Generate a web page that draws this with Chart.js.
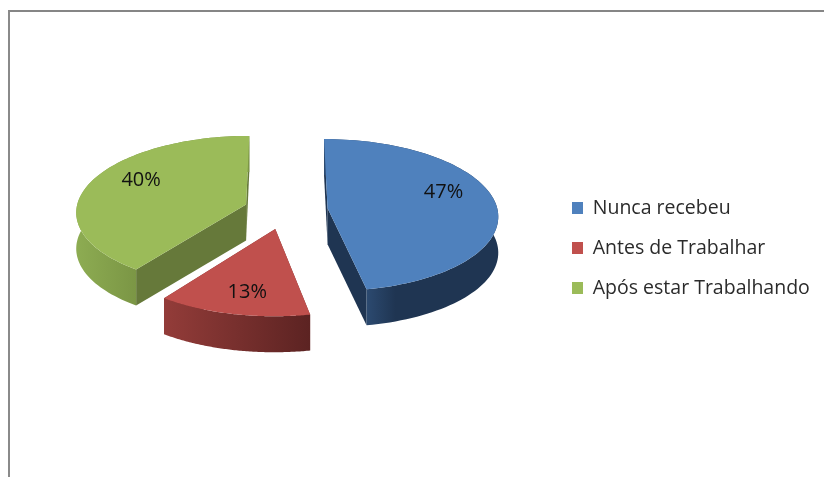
<!DOCTYPE html>
<html>
<head>
<meta charset="utf-8">
<script src="https://cdn.jsdelivr.net/npm/chart.js@4"></script>
<style>
  html, body { margin: 0; padding: 0; background: #fff; overflow: hidden; }
  #frame { position: absolute; left: 8px; top: 10px; width: 816px; height: 467px; box-sizing: border-box;
           border-left: 2px solid #8a8a8a; border-top: 2px solid #868686; }
  #pie3d { position: absolute; left: 0; top: 0; }
</style>
</head>
<body>
<div id="frame"></div>
<canvas id="pie3d" width="824" height="477"></canvas>
<script>
var categories = ["Nunca recebeu", "Antes de Trabalhar", "Após estar Trabalhando"];
var percentValues = [47, 13, 40];
var topColors = ["#4f81bd", "#c0504d", "#9bbb59"];
var sliceOffsets = [172, 172, 164];
var radialWallColors = ["#1f3552", "#7a3130", "#66793a"];
var outerWallStops = [
  [[0, "#2c4a70"], [0.22, "#1f3552"], [1, "#1f3552"]],
  [[0, "#933c39"], [1, "#5c2322"]],
  [[0, "#8dac52"], [1, "#7b9645"]]
];
var labelShifts = [[116, -16], [-28, 63], [-105, -24]];

var squash = 0.445, persp = 0.09, depth = 36;
var fontName = '"Open Sans", sans-serif';

function project(arc, wx, wy) {
  var s = 1 / (1 - persp * wy / arc.outerRadius);
  return [arc.x + wx * s, arc.y + wy * squash * s];
}

// draws the arcs chart.js laid out as tilted 3d slices
var tiltPlugin = {
  id: 'tilt',
  afterLayout: function (chart) {
    chart.legend.left = 551.5;
    chart.legend.top = 76;
  },
  beforeDatasetDraw: function (chart, args) {
    var ctx = chart.ctx;
    var arcs = args.meta.data;
    var order = [2, 0, 1];
    order.forEach(function (i) {
      var arc = arcs[i];
      var shift = arc.options.offset / 4;
      var mid = (arc.startAngle + arc.endAngle) / 2;
      var ox = Math.cos(mid) * shift, oy = Math.sin(mid) * shift;
      var rim = [], steps = 90;
      for (var n = 0; n <= steps; n++) {
        var a = arc.startAngle + (arc.endAngle - arc.startAngle) * n / steps;
        rim.push({ p: project(arc, ox + Math.cos(a) * arc.outerRadius, oy + Math.sin(a) * arc.outerRadius), front: Math.sin(a) > 0 });
      }
      var apex = project(arc, ox, oy);

      // flat side walls
      ctx.fillStyle = radialWallColors[i];
      [rim[0].p, rim[steps].p].forEach(function (e) {
        ctx.beginPath();
        ctx.moveTo(apex[0], apex[1]);
        ctx.lineTo(e[0], e[1]);
        ctx.lineTo(e[0], e[1] + depth);
        ctx.lineTo(apex[0], apex[1] + depth);
        ctx.closePath();
        ctx.fill();
      });

      // curved wall, shaded from left to right over its visible part
      var xs = rim.filter(function (r) { return r.front; }).map(function (r) { return r.p[0]; });
      var grad = ctx.createLinearGradient(Math.min.apply(null, xs), 0, Math.max.apply(null, xs), 0);
      outerWallStops[i].forEach(function (st) { grad.addColorStop(st[0], st[1]); });
      ctx.fillStyle = grad;
      ctx.beginPath();
      rim.forEach(function (r, n) {
        if (n === 0) ctx.moveTo(r.p[0], r.p[1]); else ctx.lineTo(r.p[0], r.p[1]);
      });
      for (var m = steps; m >= 0; m--) ctx.lineTo(rim[m].p[0], rim[m].p[1] + depth);
      ctx.closePath();
      ctx.fill();

      // top face
      ctx.fillStyle = arc.options.backgroundColor;
      ctx.beginPath();
      ctx.moveTo(apex[0], apex[1]);
      rim.forEach(function (r) { ctx.lineTo(r.p[0], r.p[1]); });
      ctx.closePath();
      ctx.fill();
    });

    // percent labels
    ctx.fillStyle = "#111";
    ctx.font = '20px ' + fontName;
    ctx.textAlign = "center";
    ctx.textBaseline = "middle";
    arcs.forEach(function (arc, i) {
      var shift = arc.options.offset / 4;
      var mid = (arc.startAngle + arc.endAngle) / 2;
      var apex = project(arc, Math.cos(mid) * shift, Math.sin(mid) * shift);
      ctx.fillText(percentValues[i] + "%", apex[0] + labelShifts[i][0], apex[1] + labelShifts[i][1]);
    });
    return false;
  }
};

var chart = new Chart(document.getElementById('pie3d'), {
  type: 'pie',
  data: {
    labels: categories,
    datasets: [{
      data: percentValues,
      backgroundColor: topColors,
      borderWidth: 0,
      offset: sliceOffsets
    }]
  },
  options: {
    responsive: false,
    animation: false,
    radius: 170,
    layout: { padding: { left: 14, bottom: 57 } },
    plugins: {
      tooltip: { enabled: false },
      legend: {
        position: 'right',
        labels: {
          boxWidth: 11,
          boxHeight: 12,
          padding: 20.5,
          color: "#2b2b2b",
          font: { family: fontName, size: 19.5 }
        }
      }
    }
  },
  plugins: [tiltPlugin]
});
</script>
</body>
</html>
